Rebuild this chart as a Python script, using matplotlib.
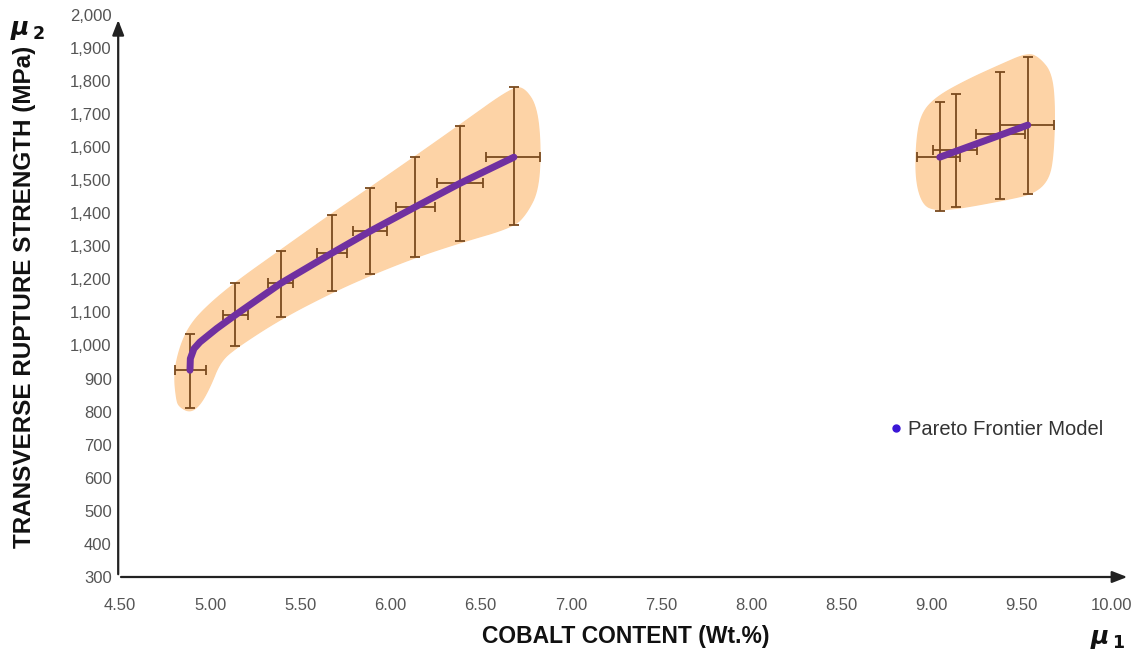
import numpy as np
import matplotlib.pyplot as plt
from matplotlib.patches import Polygon

plt.rcParams['font.family'] = ['Liberation Sans', 'DejaVu Sans']

# error bar points, low cobalt branch
left_x = [4.888, 5.137, 5.392, 5.675, 5.886, 6.135, 6.385, 6.684]
left_y = [925, 1091, 1188, 1279, 1345, 1418, 1490, 1569]
left_top = [1036, 1188, 1285, 1394, 1475, 1569, 1663, 1780]
left_bot = [810, 998, 1085, 1164, 1215, 1267, 1315, 1363]
left_xlo = [4.805, 5.071, 5.32, 5.59, 5.79, 6.03, 6.26, 6.53]
left_xhi = [4.977, 5.21, 5.46, 5.76, 5.98, 6.246, 6.51, 6.83]

# error bar points, high cobalt branch
right_x = [9.045, 9.134, 9.378, 9.533]
right_y = [1569, 1590, 1638, 1666]
right_top = [1735, 1759, 1826, 1871]
right_bot = [1406, 1418, 1442, 1457]
right_xlo = [8.92, 9.01, 9.245, 9.38]
right_xhi = [9.16, 9.25, 9.52, 9.68]

# pareto frontier curves
front1_x = [4.888, 4.890, 4.91, 4.943, 5.036, 5.137, 5.392, 5.675, 5.886, 6.135, 6.385, 6.684]
front1_y = [925, 960, 990, 1010, 1051, 1091, 1188, 1279, 1345, 1418, 1490, 1569]
front2_x = [9.045, 9.533]
front2_y = [1569, 1666]

# orange envelopes (outline)
env1_x = [4.814, 4.800, 4.833, 4.888, 4.980, 5.137, 5.392, 5.673, 5.886, 6.135, 6.385, 6.680,
          6.745, 6.810, 6.832, 6.819, 6.754, 6.680, 6.385, 6.135, 5.886, 5.673, 5.392, 5.137,
          5.054, 4.999, 4.943, 4.888, 4.830]
env1_y = [835, 915, 996, 1061, 1117, 1189, 1288, 1397, 1476, 1570, 1666, 1781,
          1776, 1721, 1600, 1469, 1399, 1358, 1311, 1266, 1212, 1160, 1081, 991,
          950, 875, 820, 798, 815]
env2_x = [8.916, 8.944, 9.027, 9.193, 9.378, 9.535, 9.600, 9.665, 9.683, 9.674, 9.646,
          9.563, 9.415, 9.249, 9.138, 9.027, 8.953, 8.912]
env2_y = [1620, 1701, 1751, 1801, 1847, 1884, 1867, 1822, 1721, 1570, 1499,
          1459, 1441, 1424, 1414, 1409, 1424, 1499]

xticks = [4.5, 5.0, 5.5, 6.0, 6.5, 7.0, 7.5, 8.0, 8.5, 9.0, 9.5, 10.0]
yticks = list(range(300, 2001, 100))

fill_c = '#fdd3a6'
bar_c = '#7a4a1e'
line_c = '#7030a0'


# round off the corners of an outline (chaikin corner cutting, in pixel space)
def smooth_outline(pts, n=3):
    for _ in range(n):
        nxt = np.roll(pts, -1, axis=0)
        q = 0.75 * pts + 0.25 * nxt
        r = 0.25 * pts + 0.75 * nxt
        pts = np.empty((2 * len(q), 2))
        pts[0::2] = q
        pts[1::2] = r
    return pts


fig = plt.figure(figsize=(11.43, 6.55), dpi=100)
ax = fig.add_axes([120 / 1143, 78 / 655, 992 / 1143, 562.4 / 655])
ax.set_xlim(4.5, 10.0)
ax.set_ylim(300, 2000)

for ex, ey in [(env1_x, env1_y), (env2_x, env2_y)]:
    pix = ax.transData.transform(np.column_stack([ex, ey]))
    pix = smooth_outline(pix)
    pts = ax.transData.inverted().transform(pix)
    ax.add_patch(Polygon(pts, closed=True, facecolor=fill_c,
                         edgecolor=fill_c, lw=1, zorder=1))

for cx, cy, top, bot, xlo, xhi in [(left_x, left_y, left_top, left_bot, left_xlo, left_xhi),
                                   (right_x, right_y, right_top, right_bot, right_xlo, right_xhi)]:
    cx = np.array(cx); cy = np.array(cy)
    yerr = [cy - np.array(bot), np.array(top) - cy]
    xerr = [cx - np.array(xlo), np.array(xhi) - cx]
    ax.errorbar(cx, cy, xerr=xerr, yerr=yerr, fmt='none', ecolor=bar_c,
                elinewidth=1.3, capsize=3.5, capthick=1.3, zorder=2)

ax.plot(front1_x, front1_y, color=line_c, lw=5, solid_capstyle='round', zorder=3)
ax.plot(front2_x, front2_y, color=line_c, lw=5, solid_capstyle='round', zorder=3)

# legend
ax.plot([], [], 'o', color='#3a16d6', ms=5, label='Pareto Frontier Model')
ax.legend(loc='center left', bbox_to_anchor=(0.768, 0.263), frameon=False, fontsize=14.5,
          handlelength=0.4, handletextpad=0.4, borderpad=0, labelcolor='#333333')

for s in ax.spines.values():
    s.set_visible(False)
ax.set_xticks(xticks)
ax.set_xticklabels(['%.2f' % v for v in xticks])
ax.set_yticks(yticks)
ax.set_yticklabels(['{:,}'.format(v) for v in yticks])
ax.tick_params(length=0, labelsize=12, labelcolor='#555555', pad=6)
ax.tick_params(axis='x', pad=15)

# arrow axes
ax.annotate('', xy=(10.1, 300), xytext=(4.49, 300), xycoords='data',
            arrowprops=dict(arrowstyle='-|>,head_length=0.9,head_width=0.35', color='#222222', lw=1.6),
            annotation_clip=False)
ax.annotate('', xy=(4.49, 1992), xytext=(4.49, 300), xycoords='data',
            arrowprops=dict(arrowstyle='-|>,head_length=0.9,head_width=0.35', color='#222222', lw=1.6),
            annotation_clip=False)

fig.text(626 / 1143, 1 - 637 / 655, 'COBALT CONTENT (Wt.%)', ha='center', va='center',
         fontsize=16.5, fontweight='bold', color='#111111')
fig.text(25 / 1143, 1 - 297 / 655, 'TRANSVERSE RUPTURE STRENGTH (MPa)', ha='center', va='center',
         rotation=90, fontsize=17.5, fontweight='bold', color='#111111')
fig.text(1108 / 1143, 1 - 639 / 655, r'$\boldsymbol{\mu}_{\,\mathbf{1}}$', ha='center', va='center',
         fontsize=18, color='#111111')
fig.text(27 / 1143, 1 - 30 / 655, r'$\boldsymbol{\mu}_{\,\mathbf{2}}$', ha='center', va='center',
         fontsize=18, color='#111111')

fig.savefig('out.png', dpi=100)
